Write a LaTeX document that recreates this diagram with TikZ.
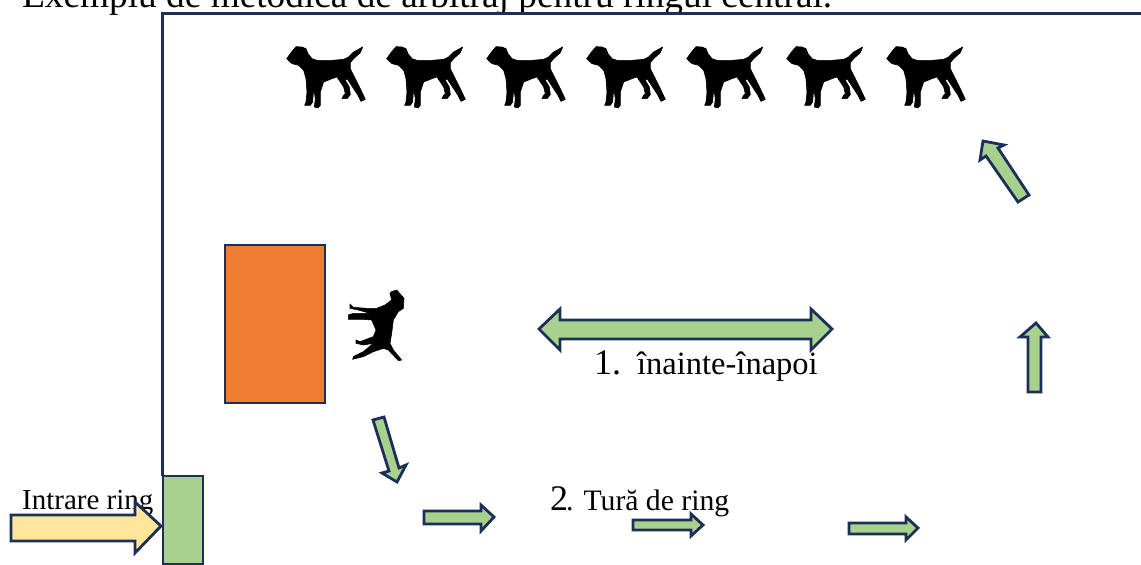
\documentclass[tikz,border=0pt]{standalone}
\usepackage{fontspec}
\setmainfont{Liberation Serif}
\definecolor{navy}{HTML}{1B2F58}
\definecolor{leaf}{HTML}{A9D18E}
\definecolor{sand}{HTML}{FFE699}
\definecolor{tang}{HTML}{ED7D31}
\tikzset{
  shape outline/.style={draw=navy,line width=2.8pt,line join=miter},
  green arrow/.style={shape outline,fill=leaf},
  sil/.style={fill=black,draw=black,line width=0.6pt,line join=round},
  lab/.style={inner sep=0pt,anchor=base west,text=black},
}
\begin{document}
\begin{tikzpicture}[x=1pt,y=-1pt]
\useasboundingbox (0,0) rectangle (1141,565);
\clip (0,0) rectangle (1141,565);
\fill[white] (0,0) rectangle (1141,565);
\node[lab,font=\fontsize{37.3}{37.3}\selectfont] (title) at (22,7.5) {Exemplu de metodică de arbitraj pentru ringul central.};
\draw[navy,line width=2.8pt] (1141,13.5) -- (162.5,13.5) -- (162.5,476);
\node[lab,font=\fontsize{29}{29}\selectfont] (entry) at (22,509) {Intrare ring};
\draw[shape outline,fill=sand] (11,515) -- (135,515) -- (135,502) -- (161,526) -- (135,553) -- (135,541) -- (11,541) -- cycle;
\draw[green arrow] (163,476) rectangle (203,564);
\draw[shape outline,fill=tang] (225,245) rectangle (325,403);
\foreach \dx in {0,100,...,600}{
\fill[sil,shift={(282+\dx,42)},x=0.3333pt,y=-0.3333pt]
 (14,50)--(30,28)--(42,14)--(60,15)--(72,20)--(78,35)--(90,50)--(105,55)--(150,55)--(185,52)--(200,45)--(215,30)--(242,15)--(235,32)--(215,50)--(205,62)--(205,80)--(215,100)--(235,140)--(250,172)--(237,178)--(228,160)--(205,125)--(195,110)--(190,115)--(202,135)--(205,158)--(195,170)--(180,170)--(185,160)--(190,155)--(185,135)--(165,105)--(150,110)--(125,120)--(115,150)--(115,190)--(108,198)--(97,195)--(100,170)--(95,140)--(92,180)--(85,190)--(68,190)--(72,180)--(75,150)--(72,110)--(65,85)--(50,70)--(30,65)--cycle;
}
\fill[sil,shift={(330,280)},x=0.3333pt,y=-0.3333pt]
 (185,35)--(200,30)--(222,55)--(220,85)--(205,95)--(190,120)--(185,160)--(180,190)--(190,210)--(215,240)--(205,242)--(175,210)--(160,205)--(130,215)--(100,230)--(68,238)--(70,230)--(100,215)--(130,190)--(100,195)--(78,190)--(78,180)--(90,185)--(130,170)--(138,150)--(125,120)--(100,118)--(55,118)--(55,105)--(70,100)--(120,100)--(85,90)--(60,85)--(60,72)--(70,82)--(110,85)--(140,85)--(165,75)--(185,60)--(180,40)--cycle;
% double arrow
\draw[green arrow] (539,329) -- (560,309) -- (560,320) -- (811,320) -- (811,309) -- (832,329) -- (811,350) -- (811,339) -- (560,339) -- (560,350) -- cycle;
\node[lab,font=\fontsize{36}{36}\selectfont] (n1) at (594,374) {1.};
\node[lab,font=\fontsize{32.5}{32.5}\selectfont] (t1) at (637,374) {înainte-înapoi};
\node[lab,font=\fontsize{36}{36}\selectfont] (n2) at (550,510) {2};
\node[lab,font=\fontsize{29.7}{29.7}\selectfont] (t2) at (566,510) {. Tură de ring};
% right arrows
\draw[green arrow] (1028,392) -- (1028,337) -- (1020,337) -- (1036,323) -- (1048,337) -- (1041,337) -- (1041,392) -- cycle;
\draw[green arrow] (1029,195) -- (998,148) -- (1004,145) -- (983,141) -- (980,160) -- (986,156) -- (1018,202) -- cycle;
% bottom arrows
\draw[green arrow] (373,420) -- (384,417) -- (399,468) -- (406,465) -- (397,482) -- (382,473) -- (389,471) -- cycle;
\draw[green arrow] (424,511) -- (481,511) -- (481,505) -- (494,517) -- (481,531) -- (481,524) -- (424,524) -- cycle;
\draw[green arrow] (633,520) -- (691,520) -- (691,514) -- (703,525) -- (691,536) -- (691,530) -- (633,530) -- cycle;
\draw[green arrow] (849,523) -- (906,523) -- (906,517) -- (918,528) -- (906,540) -- (906,534) -- (849,534) -- cycle;
\end{tikzpicture}
\end{document}
